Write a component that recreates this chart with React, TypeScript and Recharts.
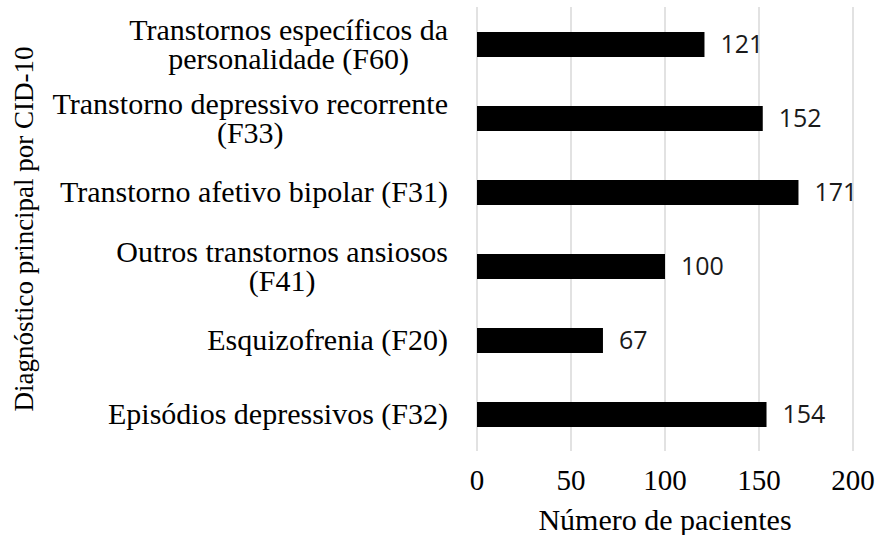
import { Bar, BarChart, CartesianGrid, Label, LabelList, XAxis, YAxis } from "recharts";

const diagnoses = [
  "Transtornos específicos da\npersonalidade (F60)",
  "Transtorno depressivo recorrente\n(F33)",
  "Transtorno afetivo bipolar (F31)",
  "Outros transtornos ansiosos\n(F41)",
  "Esquizofrenia (F20)",
  "Episódios depressivos (F32)",
];
const patients = [121, 152, 171, 100, 67, 154];
const xTicks = [0, 50, 100, 150, 200];

const data = diagnoses.map((name, i) => ({ name, patients: patients[i] }));

const SERIF = "'Liberation Serif', 'Times New Roman', serif";
const SANS = "'Open Sans', 'Liberation Sans', sans-serif";
const FONT_SIZE = 30;
const serifStyle = { fontFamily: SERIF, fontSize: FONT_SIZE };

let ctx: CanvasRenderingContext2D | null = null;
function measure(text: string) {
  if (!ctx) ctx = document.createElement("canvas").getContext("2d");
  if (!ctx) return text.length * 12;
  ctx.font = `${FONT_SIZE}px ${SERIF}`;
  return ctx.measureText(text).width;
}

function CategoryTick({ x, y, payload }: any) {
  const lines = String(payload.value).split("\n");
  const block = Math.max(...lines.map(measure));
  const center = x - 29 - block / 2;
  const lineHeight = 29;
  const top = y - ((lines.length - 1) * lineHeight) / 2;
  return (
    <text textAnchor="middle" style={serifStyle} fill="#000">
      {lines.map((line, i) => (
        <tspan key={i} x={center} y={top + i * lineHeight} dy="0.34em">
          {line}
        </tspan>
      ))}
    </text>
  );
}

function ValueTick({ x, y, payload }: any) {
  return (
    <text
      x={x}
      y={y + 29}
      dy="0.34em"
      textAnchor="middle"
      style={{ fontFamily: SERIF, fontSize: 29 }}
      fill="#000"
    >
      {payload.value}
    </text>
  );
}

export default function App() {
  return (
    <div style={{ position: "absolute", left: 0, top: 0, background: "#fff" }}>
      <BarChart
        layout="vertical"
        width={878}
        height={535}
        data={data}
        margin={{ top: 7, right: 25, bottom: 0, left: 0 }}
      >
        <CartesianGrid horizontal={false} stroke="#d9d9d9" strokeWidth={1.5} />
        <XAxis
          type="number"
          domain={[0, 200]}
          ticks={xTicks}
          height={84}
          axisLine={false}
          tickLine={false}
          tickSize={0}
          tickMargin={0}
          tick={<ValueTick />}
        >
          <Label
            content={(props: any) => {
              const vb = props.viewBox;
              return (
                <text
                  x={vb.x + vb.width / 2}
                  y={vb.y + 69}
                  dy="0.34em"
                  textAnchor="middle"
                  style={serifStyle}
                  fill="#000"
                >
                  Número de pacientes
                </text>
              );
            }}
          />
        </XAxis>
        <YAxis
          type="category"
          dataKey="name"
          width={477}
          axisLine={false}
          tickLine={false}
          tickSize={0}
          tickMargin={0}
          interval={0}
          tick={<CategoryTick />}
        >
          <Label
            content={(props: any) => {
              const vb = props.viewBox;
              const cx = vb.x + 24;
              const cy = vb.y + vb.height / 2;
              return (
                <text
                  x={cx}
                  y={cy}
                  dy="0.34em"
                  transform={`rotate(-90, ${cx}, ${cy})`}
                  textAnchor="middle"
                  style={{ fontFamily: SERIF, fontSize: 27 }}
                  fill="#000"
                >
                  Diagnóstico principal por CID-10
                </text>
              );
            }}
          />
        </YAxis>
        <Bar dataKey="patients" fill="#000" barSize={25} isAnimationActive={false}>
          <LabelList
            dataKey="patients"
            position="right"
            offset={16}
            fill="#1a1a1a"
            style={{ fontFamily: SANS, fontSize: 25 }}
          />
        </Bar>
      </BarChart>
    </div>
  );
}
